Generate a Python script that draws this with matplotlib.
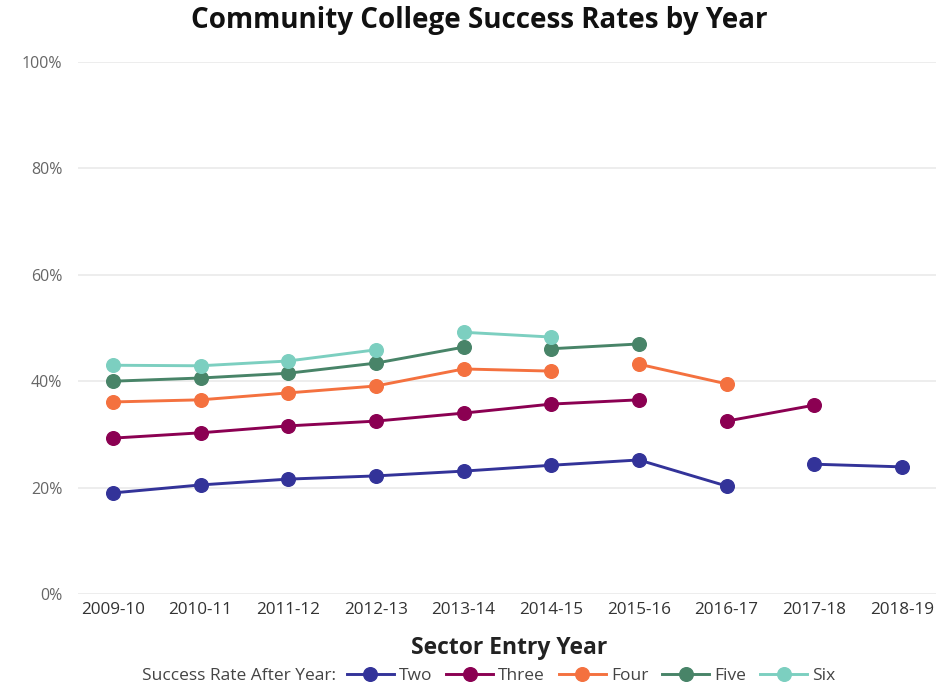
import numpy as np
import matplotlib
matplotlib.use('Agg')
import matplotlib.pyplot as plt
from matplotlib.lines import Line2D
from matplotlib.ticker import PercentFormatter

plt.rcParams['font.family'] = ['Open Sans', 'DejaVu Sans']

years = ['2009-10', '2010-11', '2011-12', '2012-13', '2013-14',
         '2014-15', '2015-16', '2016-17', '2017-18', '2018-19']
series_names = ['Two', 'Three', 'Four', 'Five', 'Six']

# success rates (%), None where no value
two = [19.0, 20.5, 21.6, 22.2, 23.1, 24.2, 25.2, 20.3, 24.4, 23.9]
three = [29.3, 30.3, 31.6, 32.5, 34.0, 35.7, 36.5, 32.5, 35.5, None]
four = [36.1, 36.5, 37.8, 39.1, 42.3, 41.9, 43.2, 39.5, None, None]
five = [40.0, 40.6, 41.5, 43.4, 46.4, 46.1, 47.0, None, None, None]
six = [43.0, 42.9, 43.8, 45.9, 49.2, 48.3, None, None, None, None]

# index after which each line is broken (no connecting segment)
breaks = {
    'Two': [7],
    'Three': [6],
    'Four': [5],
    'Five': [4],
    'Six': [3],
}

colors = ['#333399', '#8b0052', '#f4713f', '#488468', '#7ccfc0']
values = [two, three, four, five, six]

fig = plt.figure(figsize=(9.37, 6.88), dpi=100)
ax = fig.add_axes([0.083, 0.1366, 0.917, 0.7733])

for name, vals, col in zip(series_names, values, colors):
    idx = [i for i, v in enumerate(vals) if v is not None]
    # split into connected runs
    runs = []
    cur = []
    for i in idx:
        cur.append(i)
        if i in breaks[name]:
            runs.append(cur)
            cur = []
    if cur:
        runs.append(cur)
    for r in runs:
        ax.plot(r, [vals[i] for i in r], color=col, lw=2.1, marker='o',
                markersize=9.8, solid_capstyle='round', zorder=3)

ax.set_ylim(0, 100)
ax.set_xlim(-0.4, 9.4)
ax.set_yticks([0, 20, 40, 60, 80, 100])
ax.yaxis.set_major_formatter(PercentFormatter(decimals=0))
ax.set_xticks(range(len(years)))
ax.set_xticklabels(years)
ax.grid(axis='y', color='#ececec', lw=1.3)
ax.set_axisbelow(True)
for s in ax.spines.values():
    s.set_visible(False)
ax.tick_params(axis='y', length=0, labelsize=11.5, labelcolor='#666666', pad=11)
ax.tick_params(axis='x', length=0, labelsize=12.3, labelcolor='#333333', pad=6)

fig.text(0.511, 0.970, 'Community College Success Rates by Year', ha='center',
         va='center', fontsize=20, fontweight='bold', color='#111111')
fig.text(0.543, 0.058, 'Sector Entry Year', ha='center', va='center',
         fontsize=16.5, fontweight='bold', color='#222222')
fig.text(0.152, 0.018, 'Success Rate After Year:', ha='left', va='center',
         fontsize=12.5, color='#444444')

handles = [Line2D([0], [0], color=c, lw=2.1, marker='o', markersize=9.8)
           for c in colors]
fig.legend(handles, series_names, loc='center left',
           bbox_to_anchor=(0.370, 0.018), ncol=5, frameon=False,
           fontsize=12.5, handlelength=2.7, handletextpad=0.3,
           columnspacing=0.8, labelcolor='#444444', borderaxespad=0,
           borderpad=0)

fig.savefig('out.png', dpi=100)
